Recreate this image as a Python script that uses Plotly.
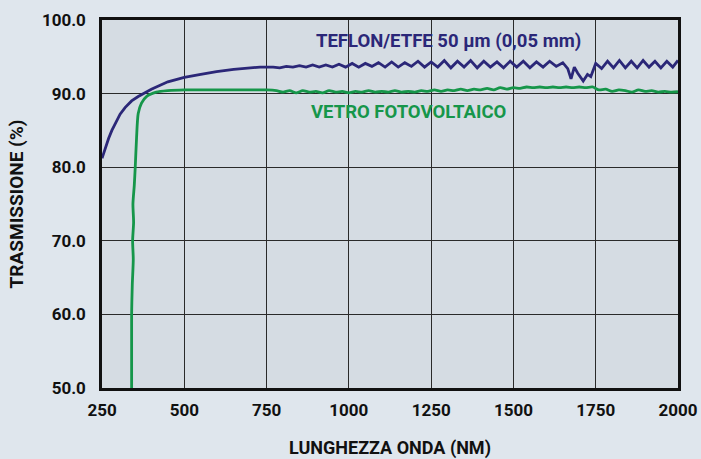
import plotly.graph_objects as go

# ---- data ----
teflon_wl = [250, 255, 262, 270, 280, 290, 305, 320, 340, 360, 380, 400, 425, 450, 475, 500, 550, 598, 650, 730,
             770, 790, 810, 830, 850, 870, 890, 910, 930, 950, 970, 990, 1010, 1030, 1050, 1070, 1090, 1110,
             1130, 1150, 1170, 1190, 1210, 1230, 1250, 1270, 1290, 1310, 1330, 1350, 1370, 1390, 1410, 1430,
             1450, 1470, 1490, 1510, 1530, 1550, 1570, 1590, 1610, 1630, 1650, 1665, 1675, 1685, 1695, 1712,
             1725, 1735, 1750, 1768, 1786, 1804, 1822, 1840, 1858, 1876, 1894, 1912, 1930, 1948,
             1966, 1984, 2000]
teflon_val = [81.2, 81.9, 82.9, 83.9, 85.0, 85.9, 87.2, 88.1, 89.0, 89.6, 90.1, 90.6, 91.1, 91.6, 91.9, 92.2,
              92.6, 93.0, 93.3, 93.6,
              93.6, 93.5, 93.7, 93.6, 93.8, 93.6, 93.9, 93.6, 93.9, 93.6, 94.0, 93.6, 94.1, 93.6, 94.1, 93.7,
              94.2, 93.6, 94.3, 93.6, 94.2, 93.7, 94.4, 93.6, 94.3, 93.6, 94.5, 93.5, 94.4, 93.6, 94.5, 93.5,
              94.4, 93.6, 94.3, 93.5, 94.4, 93.6, 94.4, 93.5, 94.3, 93.6, 94.4, 93.7, 94.2, 93.4, 92.0, 93.6,
              92.8, 91.7, 92.6, 92.3, 94.1, 93.4, 94.4, 93.5, 94.5, 93.5, 94.4, 93.5, 94.5, 93.6, 94.4, 93.5,
              94.4, 93.6, 94.5]

vetro_wl = [340, 340, 342, 345, 343, 346, 344, 348, 351, 355, 360, 370, 385, 415, 450, 500, 600, 700, 750, 780,
            800, 820, 840, 860, 880, 900, 920, 940, 960, 980, 1000, 1020, 1040, 1060, 1080, 1100, 1120, 1140,
            1160, 1180, 1200, 1220, 1240, 1260, 1280, 1300, 1320, 1340, 1360, 1380, 1400, 1420, 1440, 1460,
            1480, 1500, 1520, 1540, 1560, 1580, 1600, 1620, 1640, 1660, 1680, 1700, 1720, 1740, 1760, 1780,
            1800, 1820, 1840, 1860, 1880, 1900, 1920, 1940, 1960, 1980, 2000]
vetro_val = [49.5, 60.0, 64.0, 67.5, 70.0, 72.5, 75.0, 77.5, 80.0, 84.0, 87.3, 88.7, 89.6, 90.2, 90.4, 90.5,
             90.5, 90.5, 90.5, 90.4,
             90.2, 90.4, 90.1, 90.4, 90.2, 90.3, 90.1, 90.4, 90.2, 90.3, 90.1, 90.3, 90.2, 90.4, 90.2, 90.3,
             90.2, 90.4, 90.2, 90.3, 90.2, 90.4, 90.3, 90.5, 90.3, 90.5, 90.4, 90.6, 90.4, 90.6, 90.5, 90.7,
             90.5, 90.8, 90.6, 90.8, 90.7, 90.9, 90.8, 90.9, 90.8, 90.9, 90.8, 90.9, 90.8, 90.9, 90.8, 90.9,
             90.5, 90.6, 90.3, 90.5, 90.4, 90.2, 90.5, 90.3, 90.4, 90.2, 90.3, 90.2, 90.25]

x_ticks = [250, 500, 750, 1000, 1250, 1500, 1750, 2000]
y_ticks = [50, 60, 70, 80, 90, 100]

teflon_label = "TEFLON/ETFE 50 µm (0,05 mm)"
vetro_label = "VETRO FOTOVOLTAICO"

NAVY = "#2b2778"
GREEN = "#16964a"
FONT = "Roboto"

fig = go.Figure()
fig.add_trace(go.Scatter(x=vetro_wl, y=vetro_val, mode="lines",
                         line=dict(color=GREEN, width=2.8, shape="spline", smoothing=0.7),
                         hoverinfo="skip"))
fig.add_trace(go.Scatter(x=teflon_wl, y=teflon_val, mode="lines",
                         line=dict(color=NAVY, width=2.8), hoverinfo="skip"))

fig.add_annotation(x=1304, y=97.1, text=teflon_label, showarrow=False,
                   font=dict(family=FONT, size=18.5, color=NAVY, weight="bold"))
fig.add_annotation(x=1181, y=87.5, text=vetro_label, showarrow=False,
                   font=dict(family=FONT, size=18.5, color=GREEN, weight="bold"))

fig.update_layout(
    width=701, height=459,
    margin=dict(l=102, r=23, t=20, b=71),
    paper_bgcolor="#dfe6ed",
    plot_bgcolor="#d5dce3",
    showlegend=False,
    font=dict(family=FONT, color="#111111"),
)
fig.update_xaxes(range=[250, 2000], tickvals=x_ticks, ticktext=[str(v) for v in x_ticks],
                 showgrid=True, gridcolor="#2a2a2a", gridwidth=1,
                 showline=True, linecolor="#111111", linewidth=2.5, mirror=True,
                 ticks="", ticklabelstandoff=5, zeroline=False, automargin=False,
                 tickfont=dict(family=FONT, size=17, color="#111111", weight="bold"),
                 title=dict(text="LUNGHEZZA ONDA (NM)", standoff=34,
                            font=dict(family=FONT, size=18, color="#111111", weight="bold")))
fig.update_yaxes(range=[50, 100], tickvals=y_ticks, ticktext=[f"{v:.1f}" for v in y_ticks],
                 showgrid=True, gridcolor="#2a2a2a", gridwidth=1,
                 showline=True, linecolor="#111111", linewidth=2.5, mirror=True,
                 ticks="", ticklabelstandoff=10, zeroline=False, automargin=False,
                 tickfont=dict(family=FONT, size=17, color="#111111", weight="bold"),
                 title=dict(text="TRASMISSIONE (%)", standoff=14,
                            font=dict(family=FONT, size=19, color="#111111", weight="bold")))

fig.write_html("out.html")
